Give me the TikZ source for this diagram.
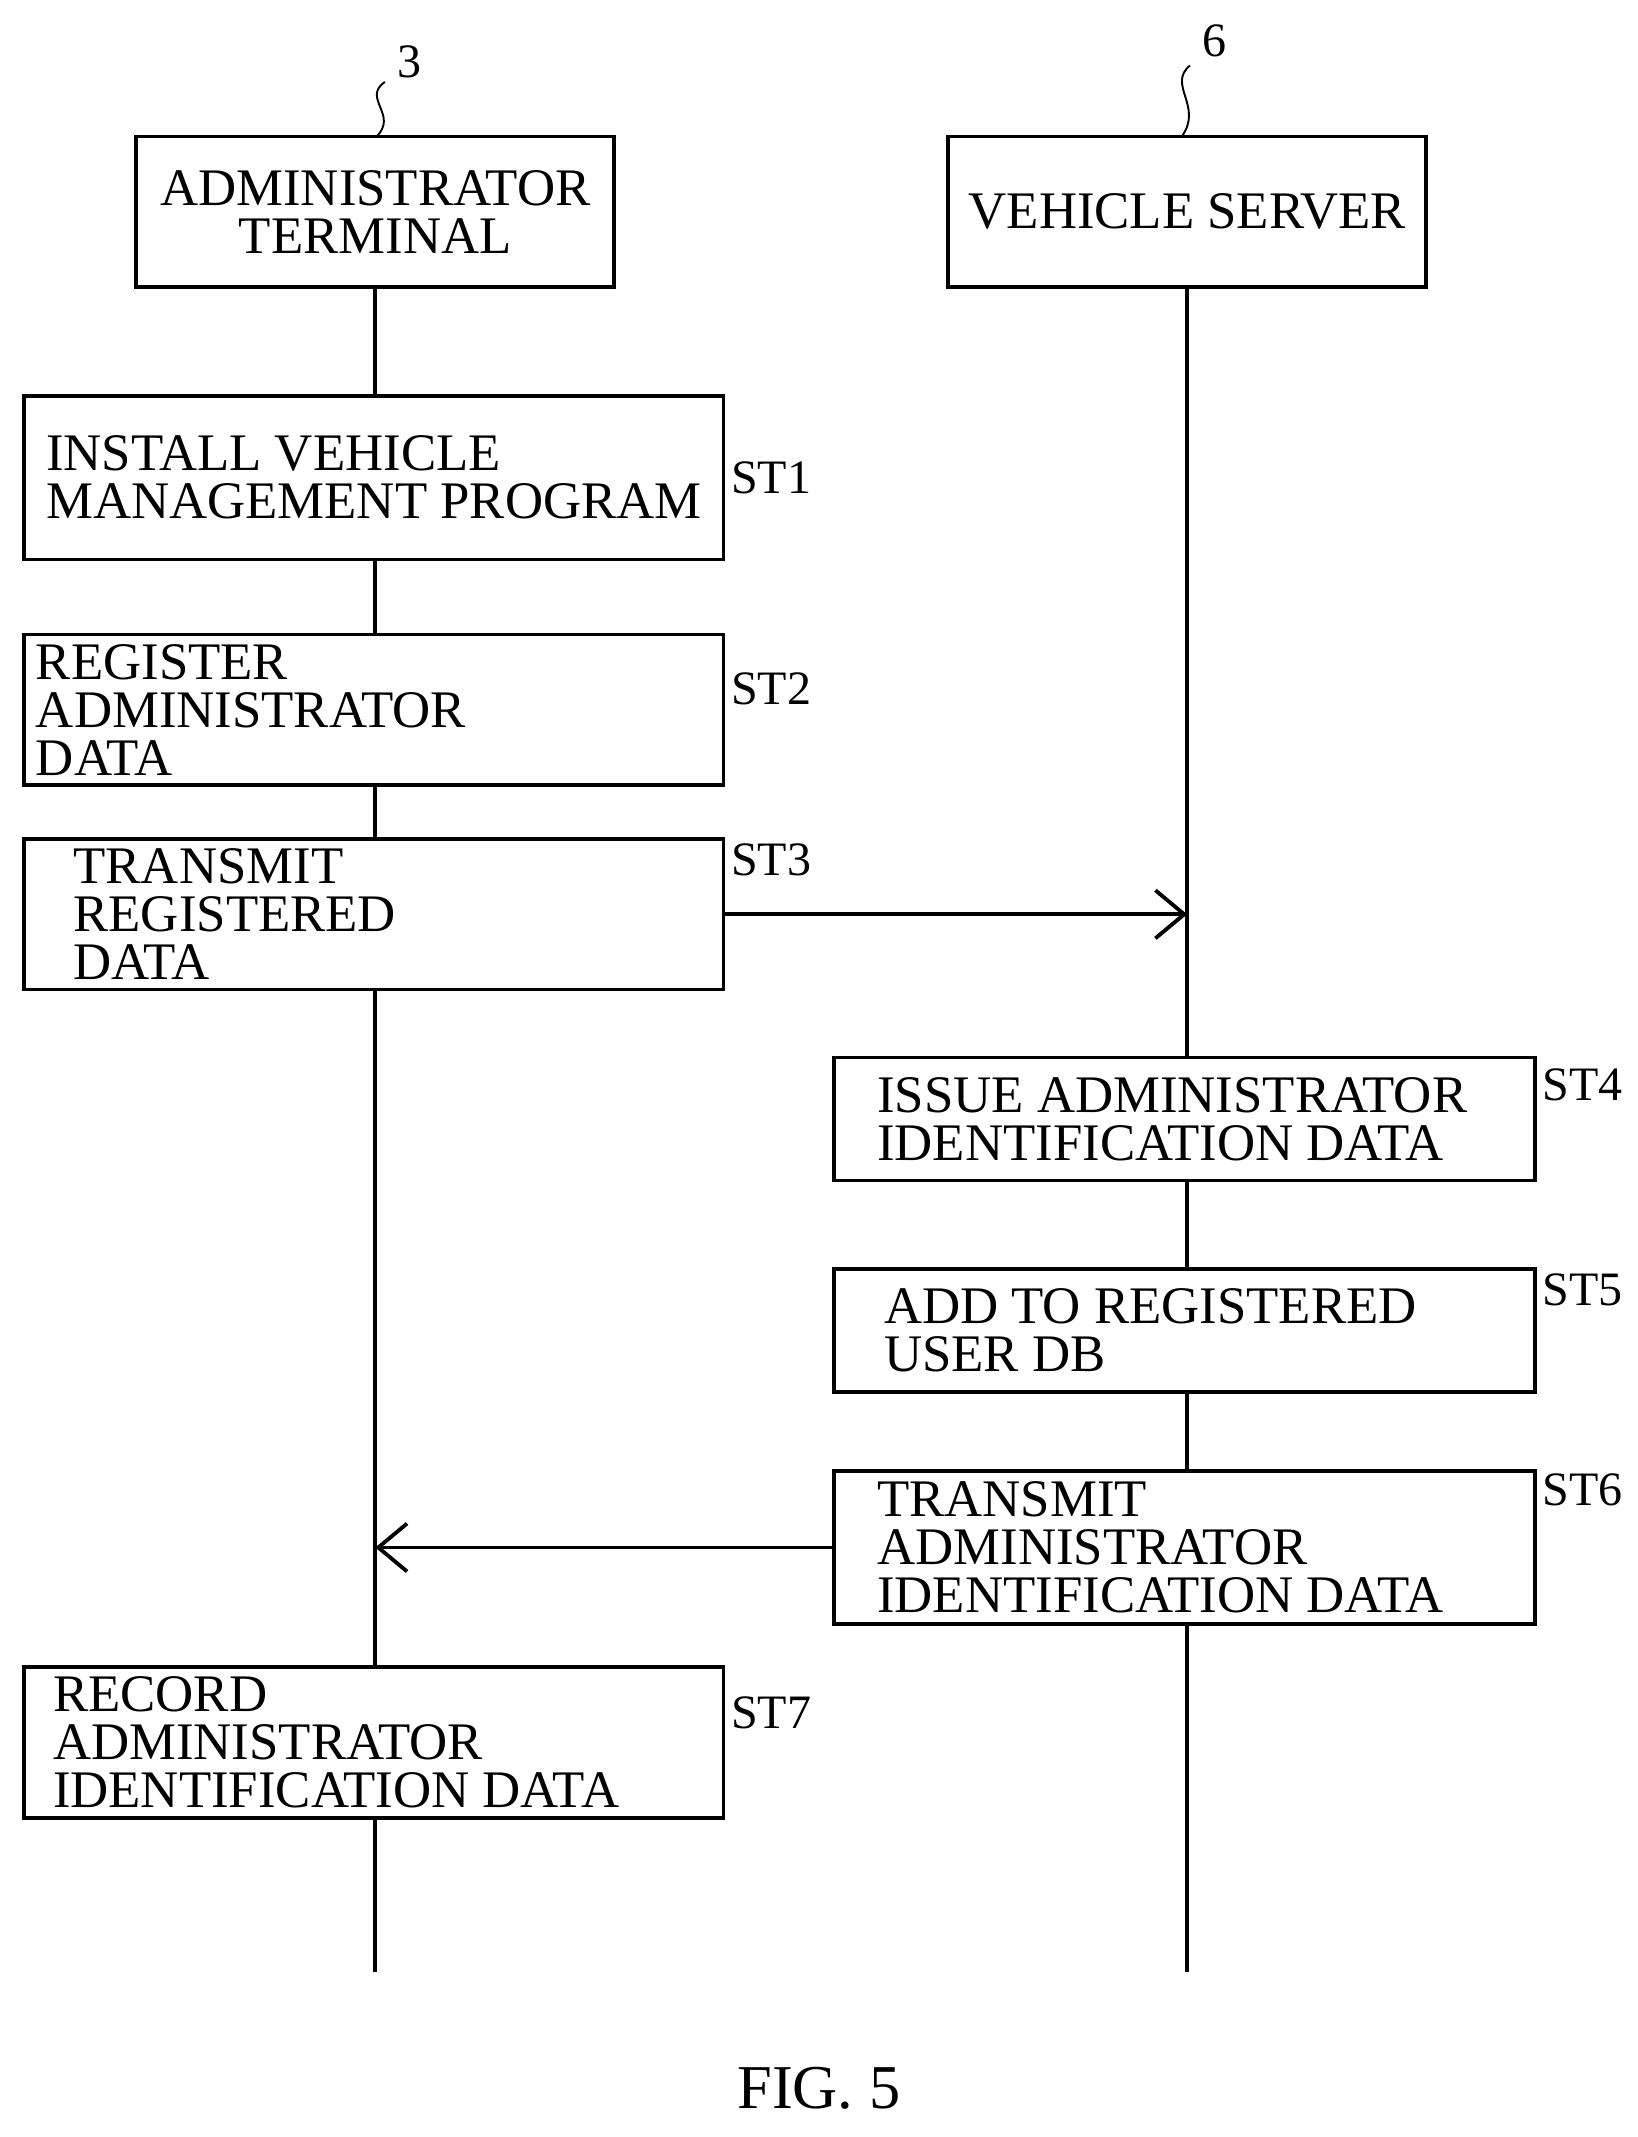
\documentclass[tikz,border=0pt]{standalone}
\usepackage{fontspec}
\setmainfont{Liberation Serif}
\usetikzlibrary{positioning,arrows.meta}
\begin{document}
\begin{tikzpicture}[x=0.01cm, y=-0.01cm,
    stepbox/.style = {draw, thick, fill=white, align=flush left, font=\fontsize{11}{10}\selectfont, inner sep=2pt},
    tag/.style = {font=\fontsize{10}{10}\selectfont},
    msg/.style = {thick, -{Straight Barb[length=6pt, width=10pt]}}]

      \useasboundingbox (0, 0) rectangle (1200, 1566);

      % lifelines
      \coordinate (admEnd) at (275, 1445);
      \coordinate (srvEnd) at (870, 1445);
      \draw[thick] (275, 210) -- (admEnd);
      \draw[thick] (870, 210) -- (srvEnd);

      % heads
      \node[stepbox, align=center, minimum width=3.5cm, minimum height=1.1cm] (adm) at (275, 155) {ADMINISTRATOR\\TERMINAL};
      \node[stepbox, align=center, minimum width=3.5cm, minimum height=1.1cm] (srv) at (870, 155) {VEHICLE SERVER};
      \node[tag] (admNum) at (300, 45) {3};
      \node[tag] (srvNum) at (890, 30) {6};
      \draw[thin] (282, 60) .. controls (265, 72) and (292, 84) .. (276, 100);
      \draw[thin] (872, 48) .. controls (855, 62) and (882, 78) .. (866, 100);

      % steps
      \node[stepbox, minimum width=5.12cm, minimum height=1.2cm] (st1) at (274, 350) {INSTALL VEHICLE\\MANAGEMENT PROGRAM};
      \node[stepbox, minimum width=5.12cm, minimum height=0.9cm, text width=4.95cm] (st2) at (274, 520) {REGISTER ADMINISTRATOR\\DATA};
      \node[stepbox, minimum width=5.12cm, minimum height=0.9cm, text width=4.4cm] (st3) at (274, 670) {TRANSMIT REGISTERED\\DATA};
      \node[stepbox, minimum width=5.13cm, minimum height=0.9cm, text width=4.5cm] (st4) at (868, 820) {ISSUE ADMINISTRATOR\\IDENTIFICATION DATA};
      \node[stepbox, minimum width=5.13cm, minimum height=0.9cm, text width=4.4cm] (st5) at (868, 975) {ADD TO REGISTERED\\USER DB};
      \node[stepbox, minimum width=5.13cm, minimum height=1.12cm, text width=4.5cm] (st6) at (868, 1134) {TRANSMIT\\ADMINISTRATOR\\IDENTIFICATION DATA};
      \node[stepbox, minimum width=5.12cm, minimum height=0.9cm, text width=4.7cm] (st7) at (274, 1277) {RECORD ADMINISTRATOR\\IDENTIFICATION DATA};

      % step labels
      \node[tag] (l1) at (565, 350) {ST1};
      \node[tag] (l2) at (565, 505) {ST2};
      \node[tag] (l3) at (565, 630) {ST3};
      \node[tag] (l4) at (1160, 795) {ST4};
      \node[tag] (l5) at (1160, 945) {ST5};
      \node[tag] (l6) at (1160, 1092) {ST6};
      \node[tag] (l7) at (565, 1255) {ST7};

      % messages
      \draw[msg] (st3.east) -- (st3.east -| srvEnd);
      \draw[msg] (st6.west) -- (st6.west -| admEnd);

      \node[font=\fontsize{13}{13}\selectfont] (fig) at (600, 1530) {FIG. 5};

    \end{tikzpicture}
\end{document}
